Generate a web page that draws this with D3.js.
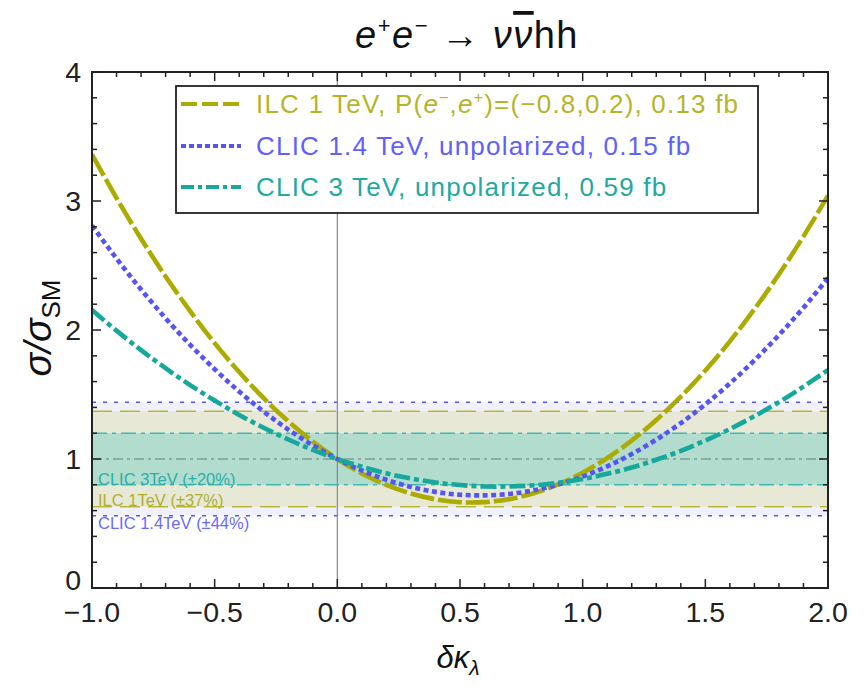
<!DOCTYPE html>
<html><head><meta charset="utf-8">
<script src="https://cdn.jsdelivr.net/npm/d3@7"></script>
<style>
body{margin:0;background:#fff;}
text{font-family:"Liberation Sans",Arial,sans-serif;}
</style></head>
<body><svg id="c" width="866" height="687"></svg>
<script>
// ---- data ----
const kappa = [-1.0,-0.9,-0.8,-0.7,-0.6,-0.5,-0.4,-0.3,-0.2,-0.1,0.0,0.1,0.2,0.3,0.4,0.5,0.6,0.7,0.8,0.9,1.0,1.1,1.2,1.3,1.4,1.5,1.6,1.7,1.8,1.9,2.0];
const ilc1 = [3.360,3.023,2.708,2.415,2.146,1.898,1.674,1.471,1.292,1.135,1.000,0.888,0.799,0.732,0.687,0.665,0.666,0.689,0.735,0.803,0.894,1.007,1.143,1.302,1.483,1.686,1.912,2.161,2.432,2.726,3.042];
const clic14 = [2.810,2.554,2.314,2.091,1.885,1.696,1.523,1.367,1.228,1.106,1.000,0.911,0.839,0.783,0.745,0.723,0.718,0.729,0.757,0.802,0.864,0.943,1.038,1.150,1.278,1.424,1.586,1.765,1.961,2.173,2.402];
const clic3 = [2.155,1.995,1.844,1.704,1.573,1.453,1.342,1.242,1.151,1.071,1.000,0.940,0.889,0.849,0.818,0.798,0.787,0.787,0.796,0.816,0.845,0.885,0.934,0.994,1.063,1.143,1.232,1.332,1.441,1.561,1.690];
const bandLabels = ["CLIC 1.4TeV (\u00b144%)","ILC 1TeV (\u00b137%)","CLIC 3TeV (\u00b120%)"];
const bandHalf = [0.44,0.37,0.20];
const xTicks = [-1.0,-0.5,0.0,0.5,1.0,1.5,2.0];
const xTickLabels = ["\u22121.0","\u22120.5","0.0","0.5","1.0","1.5","2.0"];
const yTicks = [0,1,2,3,4];

// ---- styles ----
const colOlive="#abab00", colBlue="#5555f5", colTeal="#16a89c";
const bandFill=["#f1f1fd","#e8e8d7","#b2dccd"];
const bandLine=[colBlue,"#b8b830","#3cbcb4"];
const bandDash=["4,7","20,8","15,5,4,5"];
const bandText=["#6a6aff","#b0b030","#2cb0a8"];
const bandTextY=[523,500,479];

const svg=d3.select("#c");
const L=92,R=828,T=72,B=588;
const x=d3.scaleLinear().domain([-1,2]).range([L,R]);
const y=d3.scaleLinear().domain([0,4]).range([B,T]);

svg.append("clipPath").attr("id","clip").append("rect").attr("x",L).attr("y",T).attr("width",R-L).attr("height",B-T);
const g=svg.append("g").attr("clip-path","url(#clip)");

// bands
bandHalf.forEach((h,i)=>{
  g.append("rect").attr("x",L).attr("width",R-L).attr("y",y(1+h)).attr("height",y(1-h)-y(1+h)).attr("fill",bandFill[i]);
});
bandHalf.forEach((h,i)=>{
  [1+h,1-h].forEach(v=>{
    g.append("line").attr("x1",L).attr("x2",R).attr("y1",y(v)).attr("y2",y(v))
     .attr("stroke",bandLine[i]).attr("stroke-width",1.6).attr("stroke-dasharray",bandDash[i]);
  });
});
g.append("line").attr("x1",L).attr("x2",R).attr("y1",y(1)).attr("y2",y(1))
 .attr("stroke","#7f9f95").attr("stroke-width",1.4).attr("stroke-dasharray","10,4,3,4");
// vertical line at 0
g.append("line").attr("x1",x(0)).attr("x2",x(0)).attr("y1",T).attr("y2",B).attr("stroke","#888").attr("stroke-width",1.2);

// band labels
bandLabels.forEach((t,i)=>{
  svg.append("text").attr("x",98).attr("y",bandTextY[i]).attr("dy","0.35em").attr("font-size",16.5)
   .attr("fill",bandText[i]).text(t);
});

// curves
const line=d3.line().x((d,i)=>x(kappa[i])).y(d=>y(d)).curve(d3.curveNatural);
const series=[{v:ilc1,c:colOlive,d:"24,4"},{v:clic14,c:colBlue,d:"5,3.5"},{v:clic3,c:colTeal,d:"16,4,5,4"}];
series.forEach(s=>{
  g.append("path").attr("d",line(s.v)).attr("fill","none").attr("stroke",s.c).attr("stroke-width",4.6).attr("stroke-dasharray",s.d);
});

// frame + ticks
const ax=svg.append("g");
ax.append("rect").attr("x",L).attr("y",T).attr("width",R-L).attr("height",B-T).attr("fill","none").attr("stroke","#222").attr("stroke-width",2);
const xMinor=d3.range(-10,21).map(k=>k/10);
xMinor.forEach(v=>{
  const major=Math.abs(v*2-Math.round(v*2))<1e-6;
  const len=major?9:5;
  ax.append("line").attr("x1",x(v)).attr("x2",x(v)).attr("y1",B).attr("y2",B-len).attr("stroke","#222").attr("stroke-width",1.5);
  ax.append("line").attr("x1",x(v)).attr("x2",x(v)).attr("y1",T).attr("y2",T+len).attr("stroke","#222").attr("stroke-width",1.5);
});
const yMinor=d3.range(0,21).map(k=>k/5);
yMinor.forEach(v=>{
  const major=Math.abs(v-Math.round(v))<1e-6;
  const len=major?9:5;
  ax.append("line").attr("y1",y(v)).attr("y2",y(v)).attr("x1",L).attr("x2",L+len).attr("stroke","#222").attr("stroke-width",1.5);
  ax.append("line").attr("y1",y(v)).attr("y2",y(v)).attr("x1",R).attr("x2",R-len).attr("stroke","#222").attr("stroke-width",1.5);
});
xTicks.forEach((v,i)=>{
  ax.append("text").attr("x",x(v)).attr("y",622).attr("text-anchor","middle").attr("font-size",28.5).attr("fill","#222").text(xTickLabels[i]);
});
yTicks.forEach(v=>{
  ax.append("text").attr("x",81).attr("y",v===0?590:y(v)+10).attr("text-anchor","end").attr("font-size",28.5).attr("fill","#222").text(v);
});

// title
const title=svg.append("text").attr("x",467).attr("y",48).attr("text-anchor","middle").attr("font-size",38).attr("letter-spacing",1.5).attr("fill","#111");
title.append("tspan").attr("font-style","italic").text("e");
title.append("tspan").attr("font-size",22).attr("dy",-15).text("+");
title.append("tspan").attr("font-style","italic").attr("dy",15).text("e");
title.append("tspan").attr("font-size",22).attr("dy",-15).text("\u2212");
title.append("tspan").attr("dy",15).text(" \u2192 ");
title.append("tspan").attr("font-style","italic").text("\u03bd");
title.append("tspan").attr("font-style","italic").attr("text-decoration","overline").text("\u03bd");
title.append("tspan").text("hh");

// axis labels
const xl=svg.append("text").attr("x",458).attr("y",668).attr("text-anchor","middle").attr("font-size",31).attr("fill","#111");
xl.append("tspan").attr("font-style","italic").text("\u03b4\u03ba");
xl.append("tspan").attr("font-style","italic").attr("font-size",21).attr("dy",7).text("\u03bb");
const yl=svg.append("text").attr("transform","translate(51,328) rotate(-90)").attr("text-anchor","middle").attr("font-size",39).attr("fill","#111");
yl.append("tspan").attr("font-style","italic").text("\u03c3/\u03c3");
yl.append("tspan").attr("font-size",26).attr("dy",9).text("SM");

// legend
const lg=svg.append("g");
lg.append("rect").attr("x",176).attr("y",86).attr("width",582).attr("height",127).attr("fill","#fff").attr("stroke","#222").attr("stroke-width",1.8);
const legText=[
  null,
  "CLIC 1.4 TeV, unpolarized, 0.15 fb",
  "CLIC 3 TeV, unpolarized, 0.59 fb"];
const legCol=["#b5b52a","#6060ff","#1fa9a0"];
const legY=[104,146,187];
series.forEach((s,i)=>{
  lg.append("line").attr("x1",181).attr("x2",241).attr("y1",legY[i]).attr("y2",legY[i]).attr("stroke",s.c).attr("stroke-width",4)
    .attr("stroke-dasharray",i===0?"16,5":(i===1?"5,3":"13,4,4,4"));
  const t=lg.append("text").attr("x",256).attr("y",legY[i]+9).attr("font-size",26).attr("letter-spacing",1.2).attr("fill",legCol[i]);
  if(i===0){
    t.append("tspan").text("ILC 1 TeV, P(");
    t.append("tspan").attr("font-style","italic").text("e");
    t.append("tspan").attr("font-size",16).attr("dy",-10).text("\u2212");
    t.append("tspan").attr("dy",10).text(",");
    t.append("tspan").attr("font-style","italic").text("e");
    t.append("tspan").attr("font-size",16).attr("dy",-10).text("+");
    t.append("tspan").attr("dy",10).text(")=(\u22120.8,0.2), 0.13 fb");
  } else t.text(legText[i]);
});
</script></body></html>
